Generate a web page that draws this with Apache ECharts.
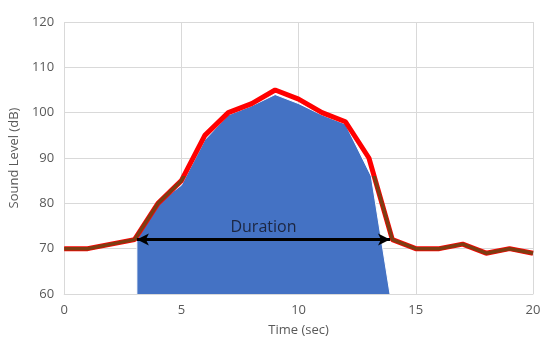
<!DOCTYPE html>
<html><head><meta charset="utf-8">
<script src="https://cdn.jsdelivr.net/npm/echarts@6/dist/echarts.min.js"></script>
<style>html,body{margin:0;padding:0;background:#fff}#c{width:550px;height:351px}</style>
</head><body><div id="c"></div>
<script>
// Sound level line (time sec, dB)
const times = [0,1,2,3,4,5,6,7,8,9,10,11,12,13,14,15,16,17,18,19,20];
const levels = [70,70,71,72,80,85,95,100,102,105,103,100,98,90,72,70,70,71,69,70,69];
// Blue duration area outline (time, dB)
const areaTimes = [3.1,3.1,4,5,6,7,8,9,10,11,12,13.1,13.9];
const areaLevels = [60,72,80,84,94,99.5,101.5,104,102,99.5,97.5,86,60];
// Duration arrow
const arrowStart = [3.1, 72];
const arrowEnd = [13.9, 72];
const arrowLabel = 'Duration';
const xTicks = [0,5,10,15,20];
const yTicks = [60,70,80,90,100,110,120];
// level below which the line looks dark brown
const brownBelow = 86;

const maxL = Math.max(...levels), minL = Math.min(...levels);
const off = (maxL - brownBelow) / (maxL - minL);
const brownGrad = new echarts.graphic.LinearGradient(0, 0, 0, 1, [
  {offset: 0, color: 'rgba(126,61,18,0)'},
  {offset: off, color: 'rgba(126,61,18,0)'},
  {offset: off, color: 'rgba(126,61,18,1)'},
  {offset: 1, color: 'rgba(126,61,18,1)'}
]);

const chart = echarts.init(document.getElementById('c'));
const font = 'Open Sans';
chart.setOption({
  animation: false,
  grid: {left: 64, right: 17, top: 22, bottom: 57, containLabel: false},
  xAxis: {
    type: 'value', min: xTicks[0], max: xTicks[xTicks.length-1], interval: 5,
    name: 'Time (sec)', nameLocation: 'middle', nameGap: 30,
    nameTextStyle: {color: '#595959', fontSize: 13, fontFamily: font},
    axisLine: {show: true, lineStyle: {color: '#d9d9d9'}},
    axisTick: {show: false},
    axisLabel: {color: '#595959', fontSize: 13, fontFamily: font, margin: 10},
    splitLine: {show: true, lineStyle: {color: '#d9d9d9', width: 1}}
  },
  yAxis: {
    type: 'value', min: yTicks[0], max: yTicks[yTicks.length-1], interval: 10,
    name: 'Sound Level (dB)', nameLocation: 'middle', nameGap: 40,
    nameTextStyle: {color: '#595959', fontSize: 13, fontFamily: font},
    axisLine: {show: false},
    axisTick: {show: false},
    axisLabel: {color: '#595959', fontSize: 13, fontFamily: font, margin: 10},
    splitLine: {show: true, lineStyle: {color: '#d9d9d9', width: 1}}
  },
  series: [
    {
      type: 'line', data: areaTimes.map((t,i)=>[t, areaLevels[i]]),
      symbol: 'none', lineStyle: {color: '#ffffff', width: 1},
      areaStyle: {color: '#4472c4', opacity: 1, origin: 'start'},
      z: 1,
      markLine: {
        silent: true, symbol: ['arrow','arrow'], symbolSize: [9, 12],
        lineStyle: {color: '#000000', width: 3, type: 'solid'},
        label: {show: true, position: 'middle', formatter: arrowLabel,
          color: '#1c2640', fontSize: 16, fontFamily: font, distance: 4},
        data: [[{coord: arrowStart}, {coord: arrowEnd}]]
      }
    },
    {
      type: 'line', data: times.map((t,i)=>[t, levels[i]]),
      symbol: 'none', lineStyle: {color: '#ff0000', width: 5}, z: 3
    },
    {
      type: 'line', data: times.map((t,i)=>[t, levels[i]]),
      symbol: 'none', lineStyle: {color: brownGrad, width: 3.5}, z: 4
    }
  ]
});
</script></body></html>
